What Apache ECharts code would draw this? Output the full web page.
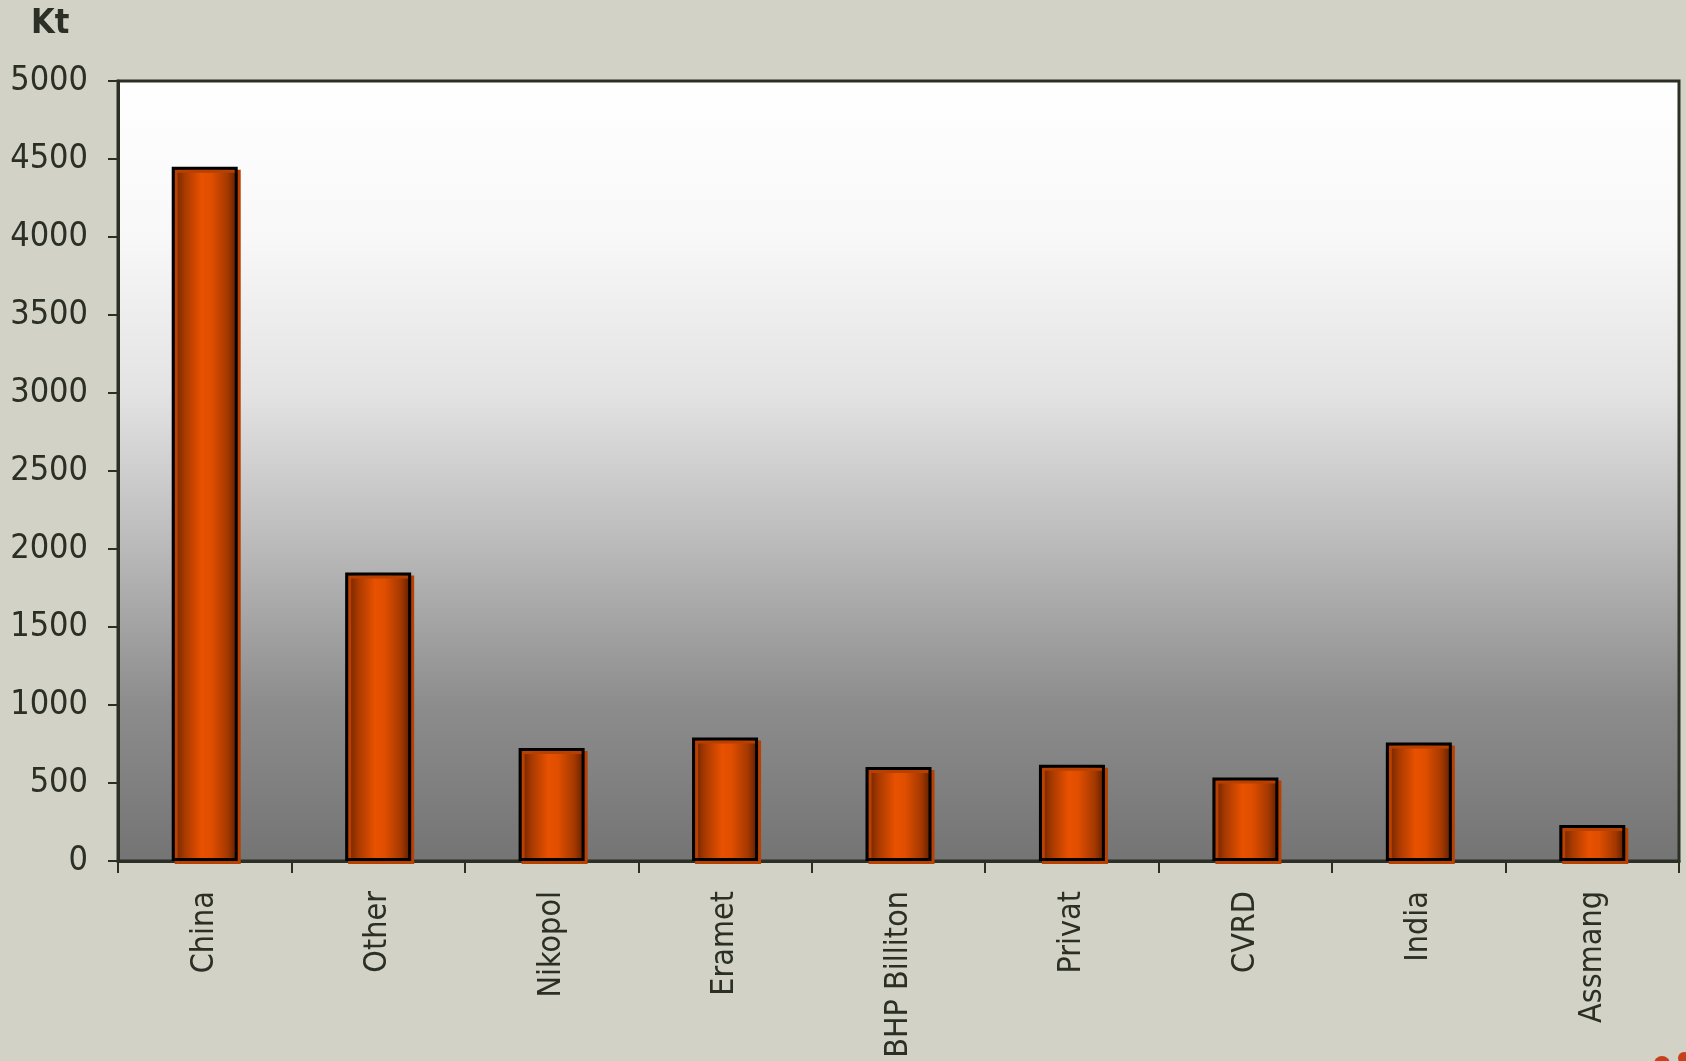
<!DOCTYPE html>
<html>
<head>
<meta charset="utf-8">
<style>
  html, body { margin: 0; padding: 0; background: #d2d2c7; }
  #chart { width: 1686px; height: 1061px; }
</style>
<script src="https://cdn.jsdelivr.net/npm/echarts@6/dist/echarts.min.js"></script>
</head>
<body>
<div id="chart"></div>
<script>
const categories = ['China', 'Other', 'Nikopol', 'Eramet', 'BHP Billiton', 'Privat', 'CVRD', 'India', 'Assmang'];
const values = [4450, 1850, 725, 792, 603, 617, 536, 760, 230];
const unitLabel = 'Kt';

const ink = '#2b2f25';
const font = "'Liberation Sans Narrow', 'Arial Narrow', 'DejaVu Sans Condensed', sans-serif";

const chart = echarts.init(document.getElementById('chart'), null, { renderer: 'canvas' });
chart.setOption({
  backgroundColor: '#d2d2c7',
  animation: false,
  grid: {
    left: 118, top: 81, right: 7, bottom: 200,
    outerBoundsMode: 'none',
    containLabel: false,
    show: true,
    borderColor: ink,
    borderWidth: 3,
    backgroundColor: {
      type: 'linear', x: 0, y: 0, x2: 0, y2: 1,
      colorStops: [
        { offset: 0, color: '#ffffff' },
        { offset: 0.2, color: '#f8f8f8' },
        { offset: 0.4, color: '#e3e3e3' },
        { offset: 0.6, color: '#b9b9b9' },
        { offset: 0.8, color: '#8c8c8c' },
        { offset: 1, color: '#747474' }
      ]
    }
  },
  graphic: [
    { type: 'text', left: 31, top: 7, style: { text: unitLabel, font: "bold 34px " + font, fill: ink } },
    { type: 'circle', shape: { cx: 1662, cy: 1064, r: 8 }, style: { fill: '#c8401a' } },
    { type: 'circle', shape: { cx: 1684, cy: 1058, r: 6 }, style: { fill: '#c8401a' } }
  ],
  xAxis: {
    type: 'category',
    data: categories,
    axisLine: { lineStyle: { color: ink, width: 3 } },
    axisTick: { show: true, length: 12, lineStyle: { color: ink, width: 2 } },
    axisLabel: { rotate: 90, margin: 30, color: ink, fontSize: 32, fontFamily: font }
  },
  yAxis: {
    type: 'value',
    min: 0, max: 5000, interval: 500,
    axisLine: { show: true, lineStyle: { color: ink, width: 3 } },
    axisTick: { show: true, length: 10, lineStyle: { color: ink, width: 2 } },
    splitLine: { show: false },
    axisLabel: { margin: 30, color: ink, fontSize: 34, fontFamily: font, formatter: function (v) { return String(v); } }
  },
  series: [{
    type: 'bar',
    data: values,
    barWidth: 66,
    itemStyle: {
      color: {
        type: 'linear', x: 0, y: 0, x2: 1, y2: 0,
        colorStops: [
          { offset: 0, color: '#5e1d00' },
          { offset: 0.2, color: '#a93a00' },
          { offset: 0.45, color: '#e85100' },
          { offset: 0.6, color: '#e04e00' },
          { offset: 0.85, color: '#a33800' },
          { offset: 1, color: '#5a1c00' }
        ]
      },
      borderColor: '#000000',
      borderWidth: 3,
      shadowColor: '#b84000',
      shadowOffsetX: 3,
      shadowOffsetY: 3,
      shadowBlur: 0
    }
  }]
});
</script>
</body>
</html>
